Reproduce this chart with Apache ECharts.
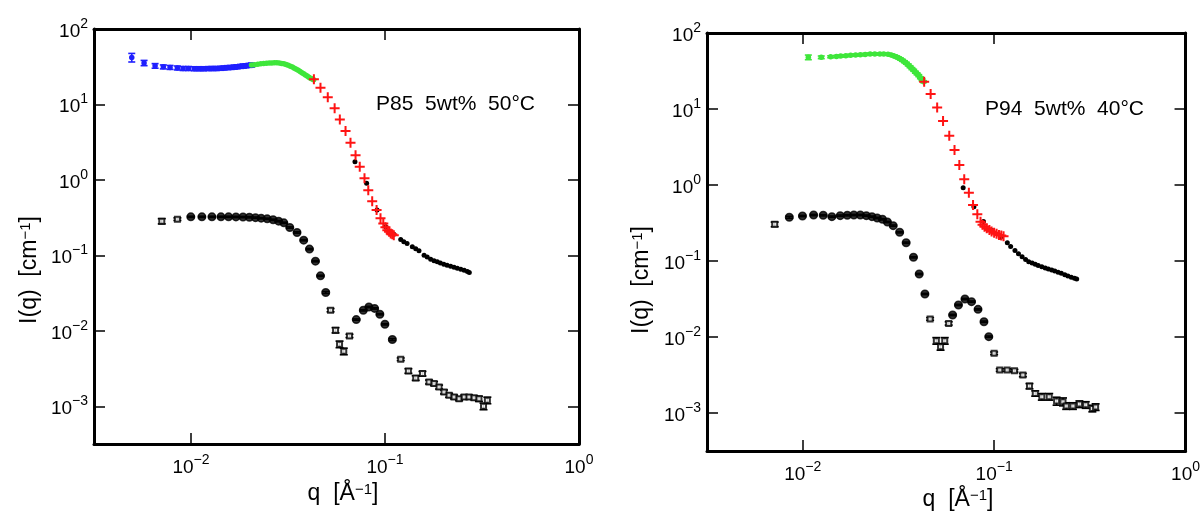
<!DOCTYPE html>
<html><head><meta charset="utf-8">
<script src="https://cdn.jsdelivr.net/npm/echarts@6/dist/echarts.min.js"></script>
<style>html,body{margin:0;padding:0;background:#fff}#c{width:1203px;height:511px}</style>
</head><body><div id="c"></div>
<script>
// ---------- Left panel: P85 5wt% 50°C ----------
const leftBlueQ = [0.00495,0.00573,0.00653,0.0072,0.0078,0.0085,0.0091,0.0097,0.0104,0.0110,0.0116,0.0123,0.0129,0.0135,0.0142,0.0148,0.0154,0.0161,0.0167,0.0173,0.0180,0.0186,0.0192,0.0199,0.0205];
const leftBlueI = [42,35.5,32.5,31.5,31,30.5,30,30,29.8,29.8,29.8,29.9,30,30,30.2,30.5,30.8,31,31.3,31.6,32,32.3,32.6,33,33.3];
const leftBlueErr = [0.13,0.08,0.07,0.06,0.06,0.06,0.06,0.06,0.06,0.06,0.06,0.06,0.06,0.06,0.06,0.06,0.06,0.06,0.06,0.06,0.06,0.06,0.06,0.06,0.06];
const leftGreenQ = [0.0205,0.0213,0.0221,0.0229,0.0237,0.0245,0.0253,0.0261,0.0269,0.0277,0.0285,0.0293,0.0301,0.0309,0.0317,0.0325,0.0333,0.0341,0.0349,0.0357,0.0365,0.0373,0.0381,0.0389,0.0397,0.0405,0.0413,0.0421,0.0429];
const leftGreenI = [33.3,33.7,34.1,34.5,34.8,35.1,35.3,35.5,35.6,35.6,35.4,35.0,34.5,33.9,33.1,32.2,31.3,30.3,29.3,28.3,27.3,26.4,25.5,24.6,23.8,23.0,22.3,21.7,21.2];
const leftRedQ = [0.0430,0.0465,0.0507,0.0550,0.0585,0.0626,0.0664,0.0705,0.0741,0.0784,0.0820,0.0859,0.0905,0.0948,0.0980,0.1005,0.1028,0.1050,0.1070,0.1090,0.1110];
const leftRedI = [21.5,16.7,12.5,8.9,6.3,4.45,3.1,2.13,1.49,1.05,0.73,0.52,0.40,0.31,0.265,0.235,0.216,0.205,0.195,0.19,0.185];
const leftUpperQ = [0.070,0.0804,0.091,0.101,0.111,0.1205,0.125,0.130,0.1383,0.144,0.1497,0.159,0.165,0.172,0.179,0.186,0.193,0.201,0.209,0.218,0.227,0.236,0.246,0.256,0.266,0.272];
const leftUpperI = [1.74,0.90,0.40,0.24,0.19,0.1625,0.152,0.1436,0.130,0.122,0.1148,0.1007,0.095,0.089,0.085,0.082,0.079,0.0764,0.074,0.0719,0.0697,0.0676,0.0656,0.0637,0.0610,0.0595];
const leftLowerQ = [0.00707,0.00851,0.00998,0.01138,0.01282,0.01427,0.01562,0.01705,0.01854,0.0200,0.0215,0.0230,0.0247,0.0265,0.0283,0.0301,0.0323,0.0352,0.0381,0.0408,0.0438,0.0465,0.0495,0.0524,0.0556,0.0583,0.0613,0.0656,0.0711,0.0773,0.0826,0.0884,0.0941,0.0999,0.1091,0.1205,0.132,0.144,0.156,0.1687,0.179,0.190,0.2015,0.214,0.227,0.241,0.256,0.271,0.288,0.305,0.322,0.337];
const leftLowerI = [0.284,0.302,0.324,0.324,0.324,0.324,0.324,0.323,0.322,0.320,0.316,0.311,0.305,0.296,0.284,0.270,0.234,0.201,0.159,0.121,0.0838,0.0535,0.0322,0.0188,0.0102,0.00664,0.00535,0.00857,0.0141,0.0187,0.0207,0.0198,0.0166,0.0122,0.00766,0.0042,0.00294,0.00237,0.00271,0.0021,0.0020,0.0018,0.00155,0.0014,0.00133,0.00126,0.00133,0.00133,0.0013,0.00126,0.0010,0.0012];
const leftLowerErr = [0.08,0.04,0.02,0.02,0.02,0.02,0.02,0.02,0.02,0.02,0.02,0.02,0.02,0.02,0.02,0.02,0.02,0.02,0.02,0.02,0.02,0.02,0.03,0.05,0.08,0.1,0.1,0.05,0.02,0.02,0.02,0.02,0.02,0.02,0.03,0.04,0.07,0.07,0.07,0.06,0.06,0.06,0.06,0.06,0.06,0.06,0.06,0.06,0.06,0.08,0.1,0.1];
const leftLabel = 'P85  5wt%  50°C';

// ---------- Right panel: P94 5wt% 40°C ----------
const rightGreenQ = [0.0107,0.0125,0.0140,0.0150,0.0158,0.0168,0.0178,0.0189,0.0200,0.0212,0.0225,0.0238,0.0253,0.0265,0.0279,0.0290,0.0300,0.0308,0.0316,0.0324,0.0332,0.0340,0.0348,0.0356,0.0364,0.0372,0.0380,0.0388,0.0396,0.0404,0.0412,0.0420,0.0428];
const rightGreenI = [47.9,47.9,48.7,49.2,49.8,50.3,50.9,51.3,51.8,52.3,52.9,53.0,52.9,52.8,52.5,51.5,50,48.7,47.2,45.5,43.7,41.9,40,38,36,34,32.3,30.5,29,27.5,25.8,24.3,22.9];
const rightGreenErr = [0.07,0.04,0.03,0.03,0.03,0.03,0.03,0.03,0.03,0.03,0.03,0.03,0.03,0.03,0.03,0.03,0.03,0.03,0.03,0.03,0.03,0.03,0.03,0.03,0.03,0.03,0.03,0.03,0.03,0.03,0.03,0.03,0.03];
const rightRedQ = [0.0431,0.0466,0.0504,0.0541,0.0583,0.0621,0.0658,0.0698,0.0738,0.0776,0.0817,0.0849,0.0870,0.0891,0.0915,0.0945,0.0970,0.100,0.103,0.106,0.109,0.112];
const rightRedI = [22.9,15.8,10.5,6.95,4.46,2.89,1.83,1.19,0.79,0.546,0.411,0.329,0.30,0.283,0.27,0.256,0.245,0.236,0.228,0.22,0.216,0.212];
const rightUpperQ = [0.0689,0.0784,0.088,0.098,0.108,0.1172,0.122,0.1285,0.134,0.140,0.146,0.1516,0.158,0.164,0.170,0.1775,0.185,0.192,0.200,0.2075,0.216,0.2244,0.234,0.243,0.253,0.263,0.270];
const rightUpperI = [0.92,0.519,0.33,0.25,0.205,0.174,0.155,0.137,0.125,0.114,0.105,0.098,0.094,0.0905,0.087,0.0842,0.081,0.0785,0.076,0.0738,0.071,0.0689,0.066,0.0635,0.061,0.0592,0.058];
const rightLowerQ = [0.00714,0.00851,0.00997,0.0114,0.0128,0.0142,0.0157,0.0171,0.0185,0.0200,0.0215,0.0230,0.0245,0.0261,0.0277,0.0297,0.0321,0.0347,0.0379,0.0406,0.0435,0.0463,0.0499,0.0525,0.0552,0.0579,0.0607,0.0651,0.0704,0.0762,0.0824,0.0885,0.0938,0.100,0.107,0.117,0.1277,0.1413,0.153,0.164,0.1775,0.194,0.212,0.229,0.238,0.258,0.279,0.301,0.326,0.339];
const rightLowerI = [0.304,0.376,0.391,0.403,0.40,0.383,0.395,0.40,0.403,0.403,0.395,0.383,0.368,0.354,0.326,0.292,0.239,0.174,0.112,0.0674,0.0368,0.0173,0.00893,0.00745,0.00893,0.0151,0.0195,0.0264,0.0316,0.0292,0.0231,0.0159,0.0101,0.00611,0.00368,0.00368,0.0036,0.00316,0.00226,0.00181,0.00164,0.00164,0.00144,0.00141,0.00124,0.00124,0.00131,0.00128,0.00115,0.0012];
const rightLowerErr = [0.07,0.03,0.02,0.02,0.02,0.02,0.02,0.02,0.02,0.02,0.02,0.02,0.02,0.02,0.02,0.02,0.02,0.02,0.02,0.02,0.02,0.04,0.1,0.1,0.1,0.05,0.02,0.02,0.02,0.02,0.02,0.02,0.02,0.04,0.04,0.04,0.04,0.05,0.08,0.08,0.1,0.1,0.12,0.12,0.1,0.1,0.1,0.1,0.1,0.1];
const rightLabel = 'P94  5wt%  40°C';

// axis ranges (log10 exponents)
const xMinExp = -2.5, xMaxExp = 0;
const yMinExp = -3.5, yMaxExp = 2;

const FONT = 'Liberation Sans, Arial, Helvetica, sans-serif';
const BLACK = '#000';
const BLUE = '#1f1fff';
const GREEN = '#3ee63a';
const RED = '#ff1414';
const PLUS = 'path://M4,0h2v4h4v2h-4v4h-2v-4h-4v-2h4z';

function powFmt(v) {
  const l = Math.log10(v), r = Math.round(l);
  if (Math.abs(l - r) > 1e-6) return '';
  return '{b|10}{s|' + (r < 0 ? '\u2212' + (-r) : String(r)) + '}';
}
const labelRich = {
  b: {fontSize: 19, fontFamily: FONT, color: BLACK, lineHeight: 24, verticalAlign: 'bottom'},
  s: {fontSize: 14, fontFamily: FONT, color: BLACK, lineHeight: 14, verticalAlign: 'top'}
};
function axisCommon(showLabel, margin) {
  return {
    type: 'log', logBase: 10,
    axisLine: {show: true, onZero: false, lineStyle: {color: BLACK, width: 3}},
    axisTick: {show: true, inside: true, length: 11, lineStyle: {color: BLACK, width: 1.5}},
    axisLabel: {show: showLabel, formatter: powFmt, rich: labelRich, margin: margin},
    splitLine: {show: false}, minorTick: {show: false}, minorSplitLine: {show: false}
  };
}
function xAxisFor(gi, pos, showLabel) {
  return Object.assign(axisCommon(showLabel, 9), {gridIndex: gi, position: pos,
    min: Math.pow(10, xMinExp), max: Math.pow(10, xMaxExp)});
}
function yAxisFor(gi, pos, showLabel) {
  return Object.assign(axisCommon(showLabel, 6), {gridIndex: gi, position: pos,
    min: Math.pow(10, yMinExp), max: Math.pow(10, yMaxExp)});
}

function pts(q, I) { return q.map((v, i) => [v, I[i]]); }
function scatter(q, I, ax, symbol, size, color, z) {
  return {type: 'scatter', xAxisIndex: ax, yAxisIndex: ax, data: pts(q, I), symbol: symbol,
    symbolSize: size, itemStyle: {color: color, opacity: 1}, z: z || 4, animation: false, silent: true};
}
function errBars(q, I, err, ax, color, capHalf, z) {
  return {
    type: 'custom', xAxisIndex: ax, yAxisIndex: ax, silent: true, z: z || 3, animation: false,
    data: q.map((v, i) => [v, I[i], err[i]]),
    encode: {x: 0, y: 1},
    renderItem: function (params, api) {
      const x = api.value(0), y = api.value(1), e = api.value(2);
      const p1 = api.coord([x, y * (1 + e)]), p2 = api.coord([x, y * (1 - e)]);
      const st = {stroke: color, lineWidth: 1.6};
      return {type: 'group', children: [
        {type: 'line', shape: {x1: p1[0], y1: p1[1], x2: p2[0], y2: p2[1]}, style: st},
        {type: 'line', shape: {x1: p1[0] - capHalf, y1: p1[1], x2: p1[0] + capHalf, y2: p1[1]}, style: st},
        {type: 'line', shape: {x1: p2[0] - capHalf, y1: p2[1], x2: p2[0] + capHalf, y2: p2[1]}, style: st}
      ]};
    }
  };
}
function lowerScatter(q, I, err, ax) {
  return {type: 'scatter', xAxisIndex: ax, yAxisIndex: ax, animation: false, silent: true, z: 4,
    data: q.map((v, i) => ({value: [v, I[i]],
      symbol: err[i] >= 0.04 ? 'emptyRect' : 'circle',
      symbolSize: err[i] >= 0.04 ? 5 : 7.5})),
    itemStyle: {color: BLACK, borderColor: BLACK, borderWidth: 1.5}};
}

// axis index layout: 0 = left bottom/left, 1 = left top/right, 2 = right bottom/left, 3 = right top/right
const grids = [
  {left: 94, top: 29, width: 485, height: 415},
  {left: 707, top: 33, width: 488, height: 418}
];
const xAxes = [xAxisFor(0, 'bottom', true), xAxisFor(0, 'top', false), xAxisFor(1, 'bottom', true), xAxisFor(1, 'top', false)];
const yAxes = [yAxisFor(0, 'left', true), yAxisFor(0, 'right', false), yAxisFor(1, 'left', true), yAxisFor(1, 'right', false)];

const series = [
  // left
  errBars(leftLowerQ, leftLowerI, leftLowerErr, 0, BLACK, 4),
  lowerScatter(leftLowerQ, leftLowerI, leftLowerErr, 0),
  scatter(leftUpperQ, leftUpperI, 0, 'circle', 5, BLACK, 4),
  errBars(leftBlueQ, leftBlueI, leftBlueErr, 0, BLUE, 3.5, 5),
  scatter(leftBlueQ, leftBlueI, 0, 'circle', 5.5, BLUE, 5),
  scatter(leftGreenQ, leftGreenI, 0, 'circle', 5.5, GREEN, 6),
  scatter(leftRedQ, leftRedI, 0, PLUS, 10, RED, 7),
  // right
  errBars(rightLowerQ, rightLowerI, rightLowerErr, 2, BLACK, 4),
  lowerScatter(rightLowerQ, rightLowerI, rightLowerErr, 2),
  scatter(rightUpperQ, rightUpperI, 2, 'circle', 5, BLACK, 4),
  errBars(rightGreenQ, rightGreenI, rightGreenErr, 2, GREEN, 3.5, 5),
  scatter(rightGreenQ, rightGreenI, 2, 'circle', 5.5, GREEN, 6),
  scatter(rightRedQ, rightRedI, 2, PLUS, 10, RED, 7)
];

const titleRich = {
  t: {fontSize: 23, fontFamily: FONT, color: BLACK},
  s: {fontSize: 15, fontFamily: FONT, color: BLACK, verticalAlign: 'top', lineHeight: 16}
};
function txt(x, y, text, rot) {
  return {type: 'text', x: x, y: y, rotation: rot || 0, silent: true, z: 100,
    style: {text: text, font: '23px ' + FONT, fill: BLACK, rich: titleRich,
      align: 'center', verticalAlign: 'middle'}};
}

const chart = echarts.init(document.getElementById('c'), null, {renderer: 'canvas'});
chart.setOption({
  animation: false,
  backgroundColor: '#fff',
  grid: grids,
  xAxis: xAxes,
  yAxis: yAxes,
  series: series,
  graphic: [
    txt(30, 270, '{t|I(q)  [cm}{s|\u22121}{t|]}', Math.PI / 2),
    txt(642, 280, '{t|I(q)  [cm}{s|\u22121}{t|]}', Math.PI / 2),
    txt(343, 494, '{t|q  [Å}{s|\u22121}{t|]}', 0),
    txt(958, 500, '{t|q  [Å}{s|\u22121}{t|]}', 0),
    {type: 'text', x: 376, y: 104, silent: true, z: 100,
      style: {text: leftLabel, font: '21px ' + FONT, fill: BLACK, align: 'left', verticalAlign: 'middle'}},
    {type: 'text', x: 985, y: 109, silent: true, z: 100,
      style: {text: rightLabel, font: '21px ' + FONT, fill: BLACK, align: 'left', verticalAlign: 'middle'}}
  ]
});
</script>
</body></html>
